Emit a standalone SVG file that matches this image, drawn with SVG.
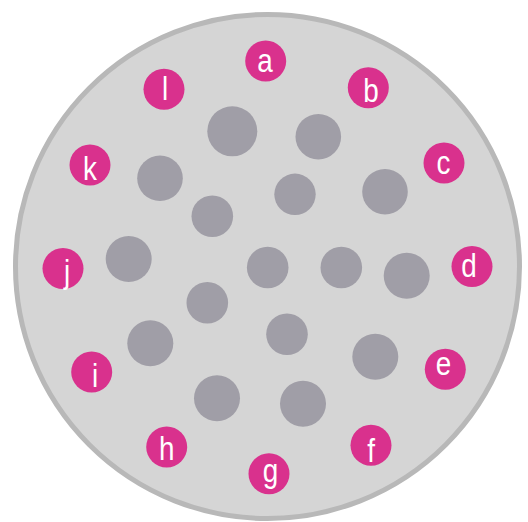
<svg xmlns="http://www.w3.org/2000/svg" width="528" height="522" viewBox="0 0 528 522">
<style>
.pin{fill:#d9318d}
.hole{fill:#a09ea7}
.lbl{fill:#ffffff;font-family:"Liberation Sans",Arial,sans-serif;font-size:34px;text-anchor:middle}
</style>
<rect width="528" height="522" fill="#ffffff"/>
<g id="plate">
<circle cx="267.5" cy="266.5" r="252" fill="#d5d5d5" stroke="#b8b8b8" stroke-width="5"/>
</g>
<g id="holes">
<circle class="hole" cx="232.3" cy="131.3" r="25"/>
<circle class="hole" cx="318.3" cy="136.7" r="22.8"/>
<circle class="hole" cx="160" cy="178.3" r="22.8"/>
<circle class="hole" cx="295" cy="194.3" r="20.7"/>
<circle class="hole" cx="385" cy="191.7" r="22.8"/>
<circle class="hole" cx="212.3" cy="216.3" r="20.8"/>
<circle class="hole" cx="128.7" cy="259" r="23"/>
<circle class="hole" cx="267.7" cy="267.5" r="20.8"/>
<circle class="hole" cx="341.3" cy="267.5" r="20.8"/>
<circle class="hole" cx="406.7" cy="275.7" r="23"/>
<circle class="hole" cx="207.3" cy="302.7" r="20.8"/>
<circle class="hole" cx="150.3" cy="343.3" r="23"/>
<circle class="hole" cx="287" cy="334.3" r="20.8"/>
<circle class="hole" cx="375.3" cy="356.7" r="23"/>
<circle class="hole" cx="217" cy="398.3" r="23"/>
<circle class="hole" cx="303" cy="403.7" r="23"/>
</g>
<g id="pin-a"><circle class="pin" cx="265.7" cy="61" r="20.5"/><text class="lbl" transform="translate(265,71.7) scale(0.82,1)">a</text></g>
<g id="pin-b"><circle class="pin" cx="368.3" cy="87.7" r="20.5"/><text class="lbl" transform="translate(371,102.3) scale(0.82,1)">b</text></g>
<g id="pin-c"><circle class="pin" cx="444" cy="163" r="20.5"/><text class="lbl" transform="translate(443.5,174) scale(0.82,1)">c</text></g>
<g id="pin-d"><circle class="pin" cx="472" cy="266.5" r="20.5"/><text class="lbl" transform="translate(469,277) scale(0.82,1)">d</text></g>
<g id="pin-e"><circle class="pin" cx="445.3" cy="369.3" r="20.5"/><text class="lbl" transform="translate(443.5,375) scale(0.82,1)">e</text></g>
<g id="pin-f"><circle class="pin" cx="371" cy="445.3" r="20.5"/><text class="lbl" transform="translate(371,461.7) scale(0.82,1)">f</text></g>
<g id="pin-g"><circle class="pin" cx="269" cy="473.7" r="20.5"/><text class="lbl" transform="translate(270.5,482) scale(0.82,1)">g</text></g>
<g id="pin-h"><circle class="pin" cx="166.7" cy="447" r="20.5"/><text class="lbl" transform="translate(166.7,460) scale(0.82,1)">h</text></g>
<g id="pin-i"><circle class="pin" cx="91.7" cy="372" r="20.5"/><text class="lbl" transform="translate(95,387.3) scale(0.82,1)">i</text></g>
<g id="pin-j"><circle class="pin" cx="63" cy="268.5" r="20.5"/><text class="lbl" transform="translate(67,282.5) scale(0.82,1)">j</text></g>
<g id="pin-k"><circle class="pin" cx="90" cy="165" r="20.5"/><text class="lbl" transform="translate(90,180) scale(0.82,1)">k</text></g>
<g id="pin-l"><circle class="pin" cx="164" cy="89.3" r="20.5"/><text class="lbl" transform="translate(165,100) scale(0.82,1)">l</text></g>
<g id="connectors"/>
</svg>
